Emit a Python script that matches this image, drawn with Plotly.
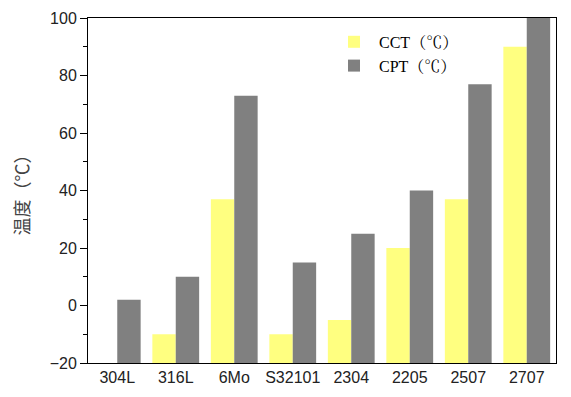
import plotly.graph_objects as go

categories = ["304L", "316L", "6Mo", "S32101", "2304", "2205", "2507", "2707"]
cct = [None, -10, 37, -10, -5, 20, 37, 90]
cpt = [2, 10, 73, 15, 25, 40, 77, 100]
y_ticks = [-20, 0, 20, 40, 60, 80, 100]
BASE = -20

def heights(vals):
    return [None if v is None else v - BASE for v in vals]

fig = go.Figure()
fig.add_trace(go.Bar(x=categories, y=heights(cct), base=BASE, name="CCT（℃）",
                     marker=dict(color="#FFFF80", line=dict(width=0))))
fig.add_trace(go.Bar(x=categories, y=heights(cpt), base=BASE, name="CPT（℃）",
                     marker=dict(color="#808080", line=dict(width=0))))

fig.update_layout(
    width=571, height=397,
    margin=dict(l=88, r=15, t=18, b=34),
    paper_bgcolor="white", plot_bgcolor="white",
    barmode="group", bargap=0.2, bargroupgap=0,
    font=dict(family="Liberation Sans, Arial", size=16, color="#222"),
    legend=dict(x=0.515, y=0.98, xanchor="left", yanchor="top",
                bgcolor="rgba(0,0,0,0)",
                font=dict(family="Liberation Serif, Noto Serif CJK SC, Noto Sans CJK SC", size=16, color="black"),
                itemwidth=40, tracegroupgap=0),
    showlegend=True,
)
fig.update_xaxes(showline=True, linecolor="black", linewidth=1, mirror=True, automargin=False,
                 ticks="", showgrid=False, tickfont=dict(size=16))
fig.update_yaxes(range=[-20, 100], tickvals=y_ticks, showline=True, linecolor="black",
                 linewidth=1, mirror=True, ticks="outside", ticklen=7, tickcolor="black",
                 showgrid=False, zeroline=False, tickfont=dict(size=16), automargin=False,
                 minor=dict(ticks="outside", ticklen=4, dtick=10, tickcolor="black", showgrid=False),
                 title=dict(text="温度（℃）", font=dict(family="Noto Sans CJK SC", size=18, color="#444")))

fig.write_html("out.html", config={"displayModeBar": False},
               post_script="document.body.style.margin='0';document.body.style.overflow='hidden';")
